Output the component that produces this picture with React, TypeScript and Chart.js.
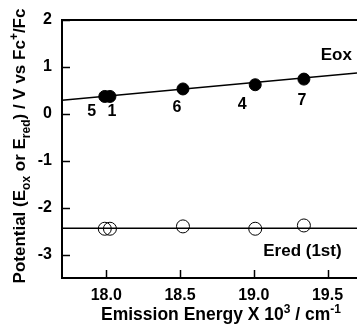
import React, { useEffect, useRef } from 'react';
import { Chart, registerables } from 'chart.js';
Chart.register(...registerables);

const xTickValues = [18.0, 18.5, 19.0, 19.5];
const yTickValues = [-3, -2, -1, 0, 1, 2];
const compoundLabels = ['5', '1', '6', '4', '7'];
const emissionEnergy = [17.99, 18.025, 18.52, 19.01, 19.34];
const eoxValues = [0.37, 0.37, 0.53, 0.62, 0.74];
const eredValues = [-2.45, -2.45, -2.4, -2.45, -2.38];
const fitX = [17.7, 19.7];
const eoxFit = [0.29, 0.87];
const eredFit = [-2.44, -2.44];

const labelOffsets = [[-13, 15], [2, 15], [-6, 19], [-13, 20], [-2, 21]];
const FONT = '"Liberation Sans", Arial, sans-serif';

type Seg = { t: string; m?: 'sub' | 'sup' };

function drawRich(ctx: CanvasRenderingContext2D, segs: Seg[], cx: number, cy: number, size: number, rot: number) {
  const small = Math.round(size * 0.68);
  const widths = segs.map((s) => {
    ctx.font = `bold ${s.m ? small : size}px ${FONT}`;
    return ctx.measureText(s.t).width;
  });
  const total = widths.reduce((a, b) => a + b, 0);
  ctx.save();
  ctx.translate(cx, cy);
  ctx.rotate(rot);
  ctx.textBaseline = 'alphabetic';
  ctx.textAlign = 'left';
  ctx.fillStyle = '#000';
  let x = -total / 2;
  const base = size * 0.35;
  segs.forEach((s, i) => {
    ctx.font = `bold ${s.m ? small : size}px ${FONT}`;
    const dy = s.m === 'sub' ? size * 0.3 : s.m === 'sup' ? -size * 0.4 : 0;
    ctx.fillText(s.t, x, base + dy);
    x += widths[i];
  });
  ctx.restore();
}

const decorPlugin = {
  id: 'decor',
  afterDraw(chart: any) {
    const { ctx, chartArea, scales } = chart;
    const xs = scales.x;
    const ys = scales.y;
    ctx.save();
    ctx.strokeStyle = '#000';
    ctx.lineWidth = 2;
    ctx.beginPath();
    ctx.moveTo(chartArea.left - 1, chartArea.top);
    ctx.lineTo(chartArea.right, chartArea.top);
    ctx.stroke();
    ctx.lineWidth = 1.5;
    yTickValues.forEach((v) => {
      const y = Math.round(ys.getPixelForValue(v)) + 0.5;
      ctx.beginPath();
      ctx.moveTo(chartArea.left, y);
      ctx.lineTo(chartArea.left + 8, y);
      ctx.stroke();
    });
    xTickValues.forEach((v) => {
      const x = Math.round(xs.getPixelForValue(v)) + 0.5;
      ctx.beginPath();
      ctx.moveTo(x, chartArea.bottom);
      ctx.lineTo(x, chartArea.bottom - 8);
      ctx.stroke();
    });
    ctx.fillStyle = '#000';
    ctx.textAlign = 'center';
    ctx.textBaseline = 'middle';
    ctx.font = `bold 16px ${FONT}`;
    compoundLabels.forEach((lab, i) => {
      const px = xs.getPixelForValue(emissionEnergy[i]);
      const py = ys.getPixelForValue(eoxValues[i]);
      ctx.fillText(lab, px + labelOffsets[i][0], py + labelOffsets[i][1]);
    });
    ctx.font = `bold 17px ${FONT}`;
    ctx.fillText('Eox', xs.getPixelForValue(19.56), ys.getPixelForValue(1.25));
    ctx.fillText('Ered (1st)', xs.getPixelForValue(19.33), ys.getPixelForValue(-2.94));
    ctx.restore();

    drawRich(ctx, [
      { t: 'Emission Energy X 10' }, { t: '3', m: 'sup' }, { t: ' / cm' }, { t: '-1', m: 'sup' },
    ], 221, 314, 17.5, 0);
    drawRich(ctx, [
      { t: 'Potential (E' }, { t: 'ox', m: 'sub' }, { t: ' or E' }, { t: 'red', m: 'sub' },
      { t: ') / V vs Fc' }, { t: '+', m: 'sup' }, { t: '/Fc' },
    ], 19, 146, 17, -Math.PI / 2);
  },
};

export default function App() {
  const ref = useRef<HTMLCanvasElement>(null);
  useEffect(() => {
    document.body.style.margin = '0';
    const pts = (ys: number[]) => emissionEnergy.map((x, i) => ({ x, y: ys[i] }));
    const zeroPad = (s: any) => { s.paddingLeft = 0; s.paddingRight = 0; s.paddingTop = 0; s.paddingBottom = 0; };
    const chart = new Chart(ref.current!, {
      type: 'scatter',
      data: {
        datasets: [
          {
            type: 'line', data: fitX.map((x, i) => ({ x, y: eoxFit[i] })), borderColor: '#000',
            borderWidth: 1.5, pointRadius: 0, fill: false,
          } as any,
          {
            type: 'line', data: fitX.map((x, i) => ({ x, y: eredFit[i] })), borderColor: '#000',
            borderWidth: 1.5, pointRadius: 0, fill: false,
          } as any,
          {
            data: pts(eoxValues), backgroundColor: '#000', borderColor: '#000', pointRadius: 6, borderWidth: 1,
          },
          {
            data: pts(eredValues), backgroundColor: 'rgba(0,0,0,0)', borderColor: '#000', pointRadius: 6.5, borderWidth: 1,
          },
        ],
      },
      options: {
        responsive: false,
        animation: false,
        devicePixelRatio: 1,
        layout: { autoPadding: false, padding: { top: 20, right: 0, left: 0, bottom: 0 } },
        plugins: { legend: { display: false }, tooltip: { enabled: false } },
        scales: {
          x: {
            type: 'linear', min: 17.7, max: 19.7,
            afterBuildTicks: (s: any) => { s.ticks = xTickValues.map((v) => ({ value: v })); },
            afterFit: (s: any) => { s.height = 49; zeroPad(s); },
            grid: { display: false, drawTicks: false },
            border: { display: true, width: 2, color: '#000' },
            ticks: {
              color: '#000', padding: 8, maxRotation: 0, autoSkip: false,
              font: { family: FONT, size: 16, weight: 'bold' },
              callback: (v: any) => Number(v).toFixed(1),
            },
          },
          y: {
            type: 'linear', min: -3.5, max: 2,
            afterBuildTicks: (s: any) => { s.ticks = yTickValues.map((v) => ({ value: v })); },
            afterFit: (s: any) => { s.width = 62; zeroPad(s); },
            grid: { display: false, drawTicks: false },
            border: { display: true, width: 2, color: '#000' },
            ticks: {
              color: '#000', padding: 10,
              font: { family: FONT, size: 16, weight: 'bold' },
              callback: (v: any) => String(v),
            },
          },
        },
      },
      plugins: [decorPlugin],
    });
    return () => chart.destroy();
  }, []);
  return <canvas ref={ref} width={357} height={327} />;
}
